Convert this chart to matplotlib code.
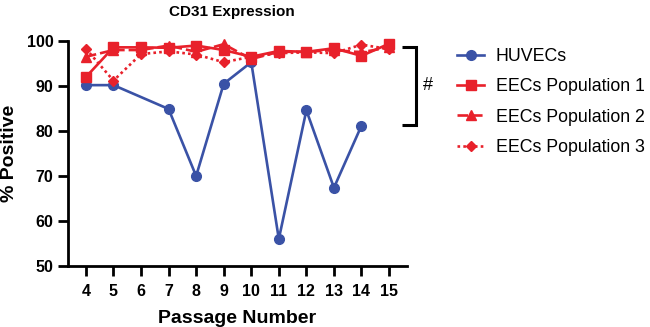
import matplotlib
matplotlib.use("Agg")
import matplotlib.pyplot as plt

plt.rcParams['font.family'] = ['Liberation Sans', 'DejaVu Sans']

passages = [4, 5, 6, 7, 8, 9, 10, 11, 12, 13, 14, 15]
huvec_passages = [4, 5, 7, 8, 9, 10, 11, 12, 13, 14]
huvec = [90.2, 90.2, 84.9, 70.0, 90.5, 95.3, 56.0, 84.6, 67.4, 81.2]
eec_pop1 = [92.0, 98.6, 98.6, 98.5, 99.0, 98.0, 96.5, 97.8, 97.6, 98.4, 96.7, 99.4]
eec_pop2 = [96.5, 98.0, 98.0, 99.0, 97.6, 99.3, 96.0, 97.6, 97.6, 98.0, 97.5, 98.6]
eec_pop3 = [98.3, 91.2, 97.1, 97.7, 97.0, 95.3, 96.5, 97.3, 97.5, 97.3, 99.2, 98.2]

blue = '#3A52A6'
red = '#E8212B'

fig = plt.figure(figsize=(6.5, 3.27), dpi=100)
ax = fig.add_axes([0.1046, 0.1865, 0.5215, 0.688])

lw = 1.9
ms = 7
ax.plot(huvec_passages, huvec, color=blue, lw=lw, marker='o', ms=ms, label='HUVECs', clip_on=False, zorder=3)
ax.plot(passages, eec_pop1, color=red, lw=lw, marker='s', ms=ms, ls='-', label='EECs Population 1', clip_on=False, zorder=4)
ax.plot(passages, eec_pop2, color=red, lw=lw, marker='^', ms=ms, ls=(0, (4, 1.5)), label='EECs Population 2', clip_on=False, zorder=4)
ax.plot(passages, eec_pop3, color=red, lw=lw, marker='D', ms=ms - 1.5, ls=(0, (1, 1.2)), label='EECs Population 3', clip_on=False, zorder=4)

ax.set_xlim(3.35, 15.65)
ax.set_ylim(50, 100)
ax.set_xticks(passages)
ax.set_yticks([50, 60, 70, 80, 90, 100])
for s in ['top', 'right']:
    ax.spines[s].set_visible(False)
for s in ['left', 'bottom']:
    ax.spines[s].set_linewidth(2)
ax.tick_params(axis='both', width=2, length=7, labelsize=11.5, direction='out')
ax.tick_params(axis='x', pad=6)
for lab in ax.get_xticklabels() + ax.get_yticklabels():
    lab.set_fontweight('bold')

ax.set_xlabel('Passage Number', fontsize=14, fontweight='bold', labelpad=8)
ax.set_ylabel('% Positive', fontsize=14, fontweight='bold', labelpad=6)
fig.text(232 / 650, 1 - 12 / 327, 'CD31 Expression', fontsize=11, fontweight='bold',
         ha='center', va='center')

# significance bracket to the right of the plot
bx0, bx1 = 15.46, 15.97
ytop, ybot = 98.6, 81.3
ax.plot([bx0, bx1, bx1, bx0], [ytop, ytop, ybot, ybot], color='black', lw=2.2,
        clip_on=False, solid_joinstyle='miter', solid_capstyle='butt')
ax.text(16.4, (ytop + ybot) / 2 + 0.2, '#', fontsize=13, ha='center', va='center')

handles, labels = ax.get_legend_handles_labels()
fig.legend(handles, labels, loc='upper left', bbox_to_anchor=(0.679, 0.902), frameon=False,
           fontsize=12.8, handlelength=1.5, labelspacing=0.75, handletextpad=0.65)

fig.savefig('out.png', dpi=100)
